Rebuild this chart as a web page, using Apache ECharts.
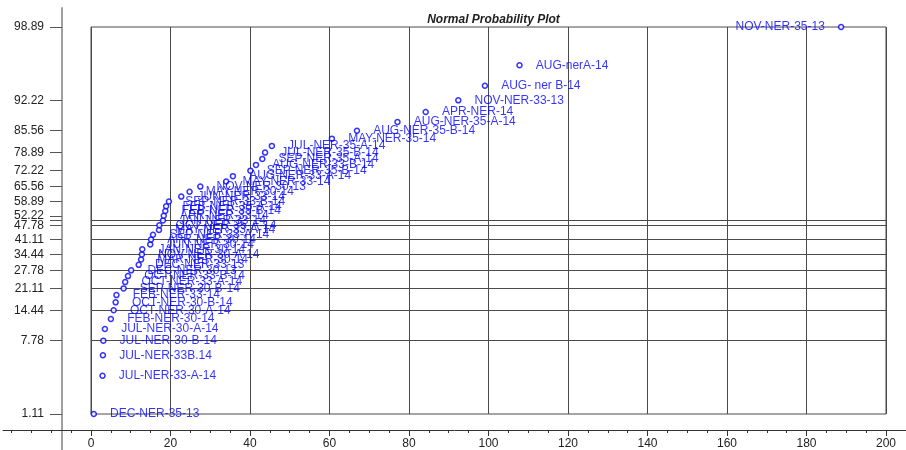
<!DOCTYPE html>
<html>
<head>
<meta charset="utf-8">
<script src="https://cdn.jsdelivr.net/npm/echarts@6/dist/echarts.min.js"></script>
<style>
  html, body { margin: 0; padding: 0; background: #ffffff; }
  #chart { width: 906px; height: 450px; }
</style>
</head>
<body>
<div id="chart"></div>
<script>
// Sample labels, sorted by measured value (rank 1 .. 45)
const sampleNames = [
  'DEC-NER-35-13', 'JUL-NER-33-A-14', 'JUL-NER-33B.14', 'JUL-NER-30-B-14', 'JUL-NER-30-A-14',
  'FEB-NER-30-14', 'OCT-NER-30-A-14', 'OCT-NER-30-B-14', 'FEB-NER-33-14', 'SEP-NER-30-B-14',
  'OCT-NER-33-A-14', 'OCT-NER-33-B-14', 'DEC-NER-30-13', 'DEC-NER-33-13', 'MAR-NER-30-14',
  'NOV-NER-30-A-14', 'JAN-NER-30-14', 'JUN-NER-30-14', 'APR-NER-30-14', 'SEP-NER-33-A-14',
  'MAY-NER-33-A-14', 'OCT-NER-35-A-14', 'JAN-NER-33-14', 'APR-NER-33-14', 'FEB-NER-35-B-14',
  'FEB-NER-35-A-14', 'SEP-NER-33-B-14', 'JUN-NER-33-14', 'MAY-NER-30-14', 'NOV-NER-30-13',
  'MAY-NER-33-14', 'AUG-NER-33-A-14', 'SEP-NER-35-B-14', 'AUG-NER-33-B-14', 'SEP-NER-35-A-14',
  'JUL-NER-35-B-14', 'JUL-NER-35-A-14', 'MAY-NER-35-14', 'AUG-NER-35-B-14', 'AUG-NER-35-A-14',
  'APR-NER-14', 'NOV-NER-33-13', 'AUG- ner B-14', 'AUG-nerA-14', 'NOV-NER-35-13'
];

// Measured values (horizontal axis)
const xValues = [
  0.7, 2.9, 3.0, 3.1, 3.5,
  5.0, 5.7, 6.2, 6.4, 8.2,
  8.6, 9.3, 10.1, 12.0, 12.6,
  12.8, 12.9, 14.9, 15.1, 15.6,
  17.1, 17.2, 18.1, 18.3, 18.7,
  18.9, 19.6, 22.7, 24.8, 27.5,
  34.0, 35.7, 40.1, 41.5, 43.1,
  43.8, 45.5, 60.6, 66.9, 77.1,
  84.2, 92.4, 99.1, 107.8, 188.7
];

// Cumulative probability plotting positions, in percent
const plotPct = [
  1.11, 3.33, 5.56, 7.78, 10.00,
  12.22, 14.44, 16.67, 18.89, 21.11,
  23.33, 25.56, 27.78, 30.00, 32.22,
  34.44, 36.67, 38.89, 41.11, 43.33,
  45.56, 47.78, 50.00, 52.22, 54.44,
  56.67, 58.89, 61.11, 63.33, 65.56,
  67.78, 70.00, 72.22, 74.44, 76.67,
  78.89, 81.11, 83.33, 85.56, 87.78,
  90.00, 92.22, 94.44, 96.67, 98.89
];

// Axis ticks
const xTickValues = [0, 20, 40, 60, 80, 100, 120, 140, 160, 180, 200];
const yTickPct = [1.11, 7.78, 14.44, 21.11, 27.78, 34.44, 41.11, 47.78, 50,
                  52.22, 58.89, 65.56, 72.22, 78.89, 85.56, 92.22, 98.89];
const yLabelPct = [1.11, 7.78, 14.44, 21.11, 27.78, 34.44, 41.11, 47.78,
                   52.22, 58.89, 65.56, 72.22, 78.89, 85.56, 92.22, 98.89];
const hLinePct = [7.78, 14.44, 21.11, 27.78, 34.44, 41.11, 47.78, 50];

// Inverse standard normal CDF (Acklam), used as the probability-axis scale
function probit(p) {
  const a = [-3.969683028665376e+01, 2.209460984245205e+02, -2.759285104469687e+02,
             1.383577518672690e+02, -3.066479806614716e+01, 2.506628277459239e+00];
  const b = [-5.447609879822406e+01, 1.615858368580409e+02, -1.556989798598866e+02,
             6.680131188771972e+01, -1.328068155288572e+01];
  const c = [-7.784894002430293e-03, -3.223964580411365e-01, -2.400758277161838e+00,
             -2.549671500645254e+00, 4.374664141464968e+00, 2.938163982698783e+00];
  const d = [7.784695709041462e-03, 3.224671290700398e-01, 2.445134137142996e+00,
             3.754408661907416e+00];
  const pl = 0.02425, ph = 1 - pl;
  let q, r;
  if (p < pl) {
    q = Math.sqrt(-2 * Math.log(p));
    return (((((c[0]*q+c[1])*q+c[2])*q+c[3])*q+c[4])*q+c[5]) /
           ((((d[0]*q+d[1])*q+d[2])*q+d[3])*q+1);
  }
  if (p <= ph) {
    q = p - 0.5; r = q * q;
    return (((((a[0]*r+a[1])*r+a[2])*r+a[3])*r+a[4])*r+a[5])*q /
           (((((b[0]*r+b[1])*r+b[2])*r+b[3])*r+b[4])*r+1);
  }
  q = Math.sqrt(-2 * Math.log(1 - p));
  return -(((((c[0]*q+c[1])*q+c[2])*q+c[3])*q+c[4])*q+c[5]) /
          ((((d[0]*q+d[1])*q+d[2])*q+d[3])*q+1);
}
const z = pct => probit(pct / 100);

// Layout (pixels)
const CW = 906, CH = 450;
const plotBox = { left: 91, right: 886, top: 27, bottom: 414 };
const frame = { left: 3, top: 8, yAxisX: 62, xAxisY: 433 };

const xMin = 0, xMax = 200;
const zLow = z(yLabelPct[0]), zHigh = z(yLabelPct[yLabelPct.length - 1]);
const pxPerX = (plotBox.right - plotBox.left) / (xMax - xMin);
const pxPerZ = (plotBox.bottom - plotBox.top) / (zHigh - zLow);

// Outer axes extend past the plot box
const outerXMin = xMin - (plotBox.left - frame.left) / pxPerX;
const outerXMax = xMax + (CW - plotBox.right) / pxPerX;
const outerZMax = zHigh + (plotBox.top - frame.top) / pxPerZ;
const outerZMin = zLow - (CH - plotBox.bottom) / pxPerZ;

const minorTicks = [];
for (let v = -20; v <= 205; v += 5) minorTicks.push(v);

const pctLabel = v => {
  let best = yLabelPct[0], bd = Infinity;
  yLabelPct.forEach(p => { const d = Math.abs(z(p) - v); if (d < bd) { bd = d; best = p; } });
  return best.toFixed(2);
};

const blue = '#0000ff';
const gridColor = '#4a4a4a';
const font = 'Arial, "Liberation Sans", sans-serif';

const points = xValues.map((x, i) => ({
  value: [x, z(plotPct[i])],
  name: sampleNames[i],
  label: i === xValues.length - 1 ? { position: 'left', distance: 13 } : undefined
}));

const chart = echarts.init(document.getElementById('chart'), null, { renderer: 'canvas' });

chart.setOption({
  animation: false,
  backgroundColor: '#ffffff',
  title: {
    text: 'Normal Probability Plot',
    left: (plotBox.left + plotBox.right) / 2,
    textAlign: 'center',
    top: 9,
    textStyle: { fontFamily: font, fontSize: 12, fontStyle: 'italic', fontWeight: 'bold', color: '#222' }
  },
  grid: [
    { // plot box
      left: plotBox.left, right: CW - plotBox.right, top: plotBox.top, bottom: CH - plotBox.bottom,
      show: true, borderColor: gridColor, borderWidth: 1, backgroundColor: 'transparent'
    },
    { // outer horizontal axis
      left: frame.left, right: 0, top: frame.top, bottom: CH - frame.xAxisY
    },
    { // outer vertical axis
      left: frame.yAxisX, right: 0, top: frame.top, bottom: 0
    }
  ],
  xAxis: [
    {
      gridIndex: 0, type: 'value', position: 'bottom', min: xMin, max: xMax, interval: 20,
      axisLine: { show: false }, axisTick: { show: false }, axisLabel: { show: false },
      splitLine: { show: true, lineStyle: { color: gridColor, width: 1 } }
    },
    {
      gridIndex: 1, type: 'value', position: 'bottom', min: outerXMin, max: outerXMax,
      axisLine: { show: true, onZero: false, lineStyle: { color: '#333', width: 1 } },
      axisTick: { show: true, customValues: xTickValues, length: 6, lineStyle: { color: '#333' } },
      axisLabel: {
        show: true, customValues: xTickValues, margin: 8,
        fontFamily: font, fontSize: 12, color: '#222'
      },
      splitLine: { show: false }
    },
    {
      gridIndex: 1, type: 'value', position: 'bottom', min: outerXMin, max: outerXMax,
      axisLine: { show: false, onZero: false },
      axisTick: { show: true, customValues: minorTicks, length: 3, lineStyle: { color: '#333' } },
      axisLabel: { show: false },
      splitLine: { show: false }
    },
    {
      gridIndex: 2, type: 'value', show: false, min: 0, max: 1
    }
  ],
  yAxis: [
    {
      gridIndex: 0, type: 'value', min: zLow, max: zHigh,
      axisLine: { show: false }, axisTick: { show: false }, axisLabel: { show: false },
      splitLine: { show: false }
    },
    {
      gridIndex: 1, type: 'value', show: false, min: 0, max: 1
    },
    {
      gridIndex: 2, type: 'value', position: 'left', min: outerZMin, max: outerZMax,
      axisLine: { show: true, onZero: false, lineStyle: { color: '#a0a0a0', width: 2 } },
      axisTick: { show: true, customValues: yTickPct.map(z), length: 12, lineStyle: { color: '#555', width: 1 } },
      axisLabel: {
        show: true, customValues: yLabelPct.map(z), margin: 18,
        fontFamily: font, fontSize: 12, color: '#222',
        formatter: pctLabel
      },
      splitLine: { show: false }
    }
  ],
  series: [
    {
      type: 'scatter',
      xAxisIndex: 0, yAxisIndex: 0,
      symbol: 'circle', symbolSize: 5,
      itemStyle: { color: '#ffffff', borderColor: blue, borderWidth: 1.5 },
      label: {
        show: true, position: 'right', distance: 13,
        formatter: p => p.name,
        fontFamily: font, fontSize: 12, color: blue
      },
      data: points,
      markLine: {
        silent: true, symbol: 'none', animation: false,
        label: { show: false },
        lineStyle: { color: gridColor, width: 1, type: 'solid' },
        data: hLinePct.map(p => ({ yAxis: z(p) }))
      },
      z: 5
    }
  ]
});
</script>
</body>
</html>
